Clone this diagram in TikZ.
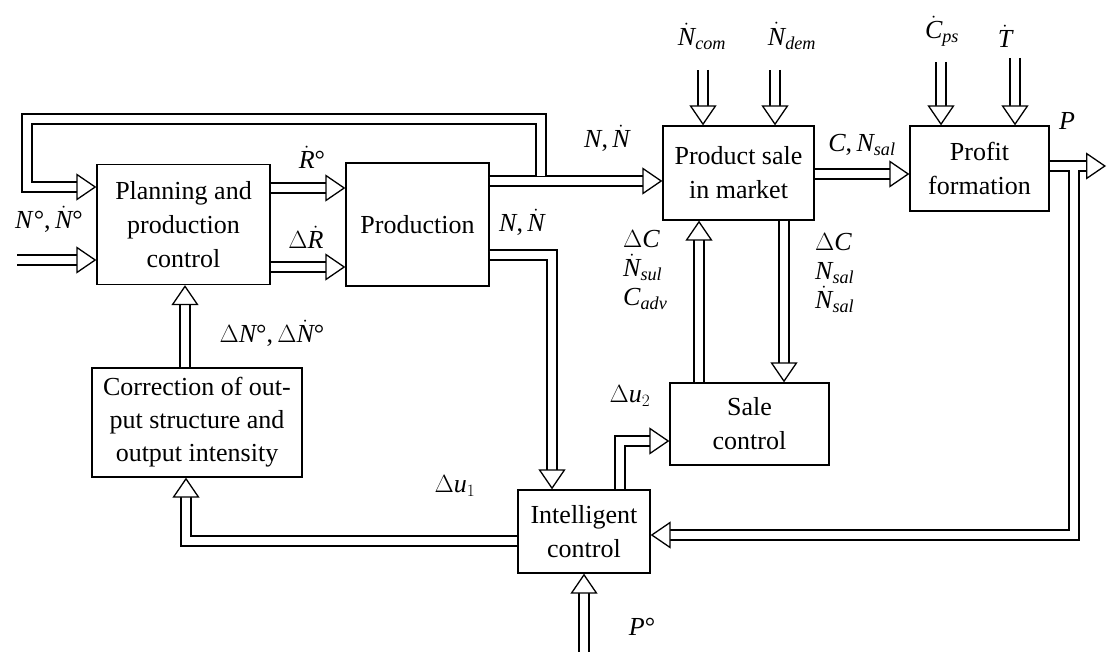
\documentclass[tikz,border=0pt]{standalone}
\usepackage{amsmath}
\usepackage{fontspec}
\setmainfont{Liberation Serif}
\usetikzlibrary{arrows.meta}
\newcommand{\mi}[1]{\textit{#1}}
\newcommand{\dN}{$\dot{\mi{N}}$}
\begin{document}
\begin{tikzpicture}[x=1pt,y=-1pt,
  box/.style={draw,line width=1.3pt,align=center,inner sep=0pt,
    font=\fontsize{26}{34}\selectfont},
  lbl/.style={inner sep=0pt,font=\fontsize{26}{30}\selectfont},
  harrow/.style={double distance=8.5pt,line width=1.3pt,
    -{Triangle[open,fill=white,length=20pt,width=27pt,line width=1.3pt]}}]
\useasboundingbox (0,0) rectangle (1108,652);
% boxes
\node[box,minimum width=173pt,minimum height=120pt] (plan) at (183.5,224.5) {Planning and\\production\\control};
\node[box,minimum width=143pt,minimum height=123pt] (prod) at (417.5,224.5) {Production};
\node[box,minimum width=151pt,minimum height=94pt] (sale) at (738.5,173) {Product sale\\in market};
\node[box,minimum width=139pt,minimum height=85pt] (profit) at (979.5,168.5) {Profit\\formation};
\node[box,minimum width=159pt,minimum height=82pt] (salec) at (749.5,424) {Sale\\control};
\node[box,minimum width=132pt,minimum height=83pt] (intel) at (584,531.5) {Intelligent\\control};
\node[box,minimum width=210pt,minimum height=109pt,font=\fontsize{26}{33}\selectfont] (corr) at (197,422.5) {Correction of out-\\put structure and\\output intensity};
% coordinates
\coordinate (in1) at (17,260);
\coordinate (lp) at (541,175.6);
\coordinate (nc) at (703,70);
\coordinate (nd) at (775,70);
\coordinate (cp) at (941,62);
\coordinate (tt) at (1015,58);
\coordinate (pout) at (1106,166);
\coordinate (pf) at (1074,170.5);
\coordinate (pin) at (584,652);
% arrows
\draw[harrow] (in1) -- (plan.west |- in1);
\draw[harrow] (plan.east |- 0,188) -- (prod.west |- 0,188);
\draw[harrow] (plan.east |- 0,267) -- (prod.west |- 0,267);
\draw[harrow] (prod.east |- 0,181) -- (sale.west |- 0,181);
\draw[harrow] (lp) -- (541,119) -- (27,119) -- (27,187) -- (plan.west |- 0,187);
\draw[harrow] (prod.east |- 0,255) -| (intel.north -| 552,0);
\draw[harrow] (nc) -- (nc |- sale.north);
\draw[harrow] (nd) -- (nd |- sale.north);
\draw[harrow] (cp) -- (cp |- profit.north);
\draw[harrow] (tt) -- (tt |- profit.north);
\draw[harrow] (sale.east |- 0,174) -- (profit.west |- 0,174);
\draw[harrow] (profit.east |- pout) -- (pout);
\draw[harrow] (pf) -- (1074,535) -- (intel.east |- 0,535);
\draw[harrow] (salec.north -| 699,0) -- (sale.south -| 699,0);
\draw[harrow] (sale.south -| 784,0) -- (salec.north -| 784,0);
\draw[harrow] (intel.north -| 620,0) |- (salec.west |- 0,441);
\draw[harrow] (intel.west |- 0,541) -| (corr.south -| 186,0);
\draw[harrow] (corr.north -| 185,0) -- (plan.south -| 185,0);
\draw[harrow] (pin) -- (intel.south);
% labels
\node[lbl] (l1) at (49,219) {\mi{N}°,\,\dN°};
\node[lbl] (l2) at (312,157) {$\dot{\mi{R}}$°};
\node[lbl] (l3) at (306,237) {$\Delta\dot{\mi{R}}$};
\node[lbl] (l4) at (607,138) {\mi{N},\,\dN};
\node[lbl] (l5) at (522,222) {\mi{N},\,\dN};
\node[lbl] (l6) at (702,36) {$\dot{\mi{N}}_{\mi{com}}$};
\node[lbl] (l7) at (792,36) {$\dot{\mi{N}}_{\mi{dem}}$};
\node[lbl] (l8) at (942,31) {$\dot{\mi{C}}_{\mi{ps}}$};
\node[lbl] (l9) at (1005,36) {$\dot{\mi{T}}$};
\node[lbl] (l10) at (862,145) {\mi{C},\,$\mi{N}_{\mi{sal}}$};
\node[lbl] (l11) at (1067,121) {\mi{P}};
\node[lbl,anchor=north west,align=left,font=\fontsize{26}{29}\selectfont] (l12) at (815,233) {$\Delta\mi{C}$\\$\mi{N}_{\mi{sal}}$\\$\dot{\mi{N}}_{\mi{sal}}$};
\node[lbl,anchor=north west,align=left,font=\fontsize{26}{29}\selectfont] (l13) at (623,230) {$\Delta\mi{C}$\\$\dot{\mi{N}}_{\mi{sul}}$\\$\mi{C}_{\mi{adv}}$};
\node[lbl] (l14) at (272,333) {$\Delta\mi{N}$°,\,$\Delta\dot{\mi{N}}$°};
\node[lbl] (l15) at (630,396) {$\Delta\mi{u}_2$};
\node[lbl] (l16) at (455,486) {$\Delta\mi{u}_1$};
\node[lbl] (l17) at (642,627) {\mi{P}°};
\end{tikzpicture}
\end{document}
